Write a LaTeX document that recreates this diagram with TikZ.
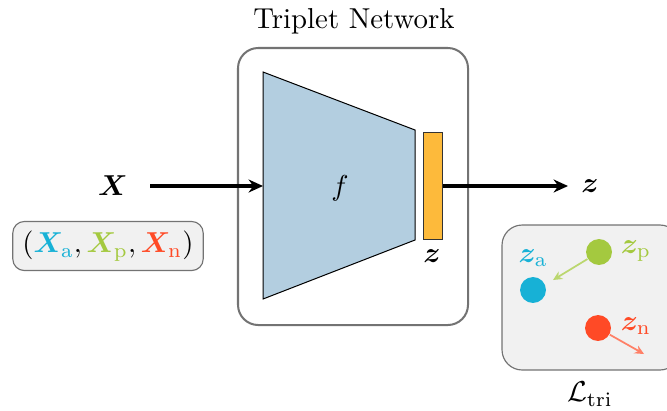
\documentclass[tikz,border=0pt]{standalone}
\usepackage{amsmath}
\usepackage{bm}
\usetikzlibrary{arrows.meta}
\definecolor{anchorc}{HTML}{17B1D6}
\definecolor{posc}{HTML}{A4C93F}
\definecolor{negc}{HTML}{FF4A26}
\definecolor{netblue}{HTML}{B3CEE0}
\definecolor{embor}{HTML}{FDBA3B}
\definecolor{panelgray}{HTML}{F1F1F1}
\tikzset{
  frame/.style={draw=black!55, line width=0.7pt, rounded corners=7pt},
  panel/.style={draw=black!55, line width=0.4pt, fill=panelgray, rounded corners=4pt},
  flow/.style={-{Stealth[length=5pt,width=4.5pt]}, line width=1.1pt},
  dot/.style={circle, inner sep=0pt, minimum size=9pt},
  pull/.style={-{Stealth[length=3.2pt,width=3pt]}, line width=0.6pt},
}
\begin{document}
\begin{tikzpicture}[x=0.347pt, y=-0.347pt]
\useasboundingbox (0,0) rectangle (667,410);
% network frame
\draw[frame] (238,48) rectangle (468,325);
\node (title) at (354,21) {Triplet Network};
% encoder
\draw[fill=netblue, line width=0.35pt] (263,72) -- (415,130) -- (415,240) -- (263,299) -- cycle;
\coordinate (encin) at (263,186);
\node (f) at (340,188) {$f$};
% embedding
\node[draw=black!80, fill=embor, line width=0.35pt, minimum width=6.9pt, minimum height=36.8pt, inner sep=0pt] (emb) at (433,186) {};
\node (zlab) at (432,256) {$\bm{z}$};
% input / output
\node (X) at (113,186) {$\bm{X}$};
\coordinate (Xr) at (150,186);
\draw[flow] (Xr) -- (encin);
\node (zout) at (590,186) {$\bm{z}$};
\coordinate (zoutl) at (568,186);
\draw[flow] (emb.east) -- (zoutl);
% triplet tuple
\node[panel, minimum width=65.2pt, minimum height=16pt] (tuple) at (108,246)
  {$(\textcolor{anchorc}{\bm{X}_{\mathrm{a}}}, \textcolor{posc}{\bm{X}_{\mathrm{p}}}, \textcolor{negc}{\bm{X}_{\mathrm{n}}})$};
% triplet loss panel
\draw[panel, rounded corners=7pt] (502,225) rectangle (680,370);
\node[dot, fill=posc] (zp) at (599,252) {};
\node[dot, fill=anchorc] (za) at (533,290) {};
\node[dot, fill=negc] (zn) at (598,328) {};
\node[text=anchorc] (zal) at (533,258) {$\bm{z}_{\mathrm{a}}$};
\node[text=posc] (zpl) at (636,251) {$\bm{z}_{\mathrm{p}}$};
\node[text=negc] (znl) at (636,326) {$\bm{z}_{\mathrm{n}}$};
\coordinate (pt) at (553,280);
\coordinate (nt) at (644,354);
\draw[pull, draw=posc!75] (zp) -- (pt);
\draw[pull, draw=negc!70] (zn) -- (nt);
\node (loss) at (590,394) {$\mathcal{L}_{\mathrm{tri}}$};
\end{tikzpicture}
\end{document}
